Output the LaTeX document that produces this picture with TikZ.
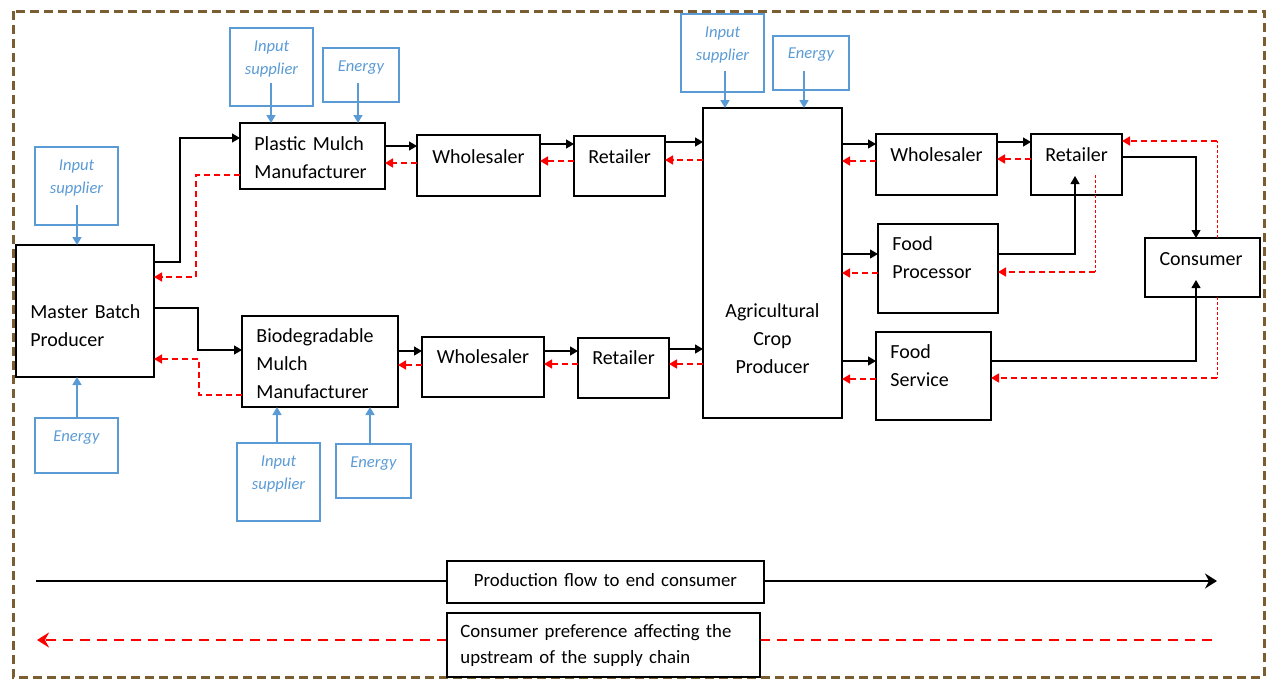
\documentclass[tikz,border=0pt]{standalone}
\usepackage{fontspec}
\setmainfont{Carlito}
\usetikzlibrary{arrows.meta,fit,calc}
\definecolor{bordbrown}{RGB}{122,94,50}
\definecolor{inblue}{RGB}{91,155,213}
\definecolor{fbred}{RGB}{255,0,0}
\tikzset{
  box/.style={draw=black, line width=1.25pt, inner sep=0pt, outer sep=0pt},
  bluebox/.style={draw=inblue, line width=0.8pt, inner sep=0pt, outer sep=0pt},
  legbox/.style={draw=black, fill=white, line width=0.6pt, inner sep=0pt, outer sep=0pt},
  ntext/.style={font=\fontsize{10pt}{14pt}\selectfont, inner sep=0pt, text width=90pt},
  btext/.style={font=\fontsize{8.3pt}{11.5pt}\selectfont\itshape, text=inblue, inner sep=0pt, text width=60pt, align=center, anchor=base},
  ltext/.style={font=\fontsize{9.4pt}{13pt}\selectfont, inner sep=0pt, text width=200pt},
  farrow/.style={draw=black, line width=0.6pt, -{Triangle[length=4pt,width=4.5pt]}},
  rarrow/.style={draw=fbred, line width=0.75pt, dash pattern=on 3pt off 2pt, -{Triangle[length=4pt,width=4.5pt]}},
  rthin/.style={draw=fbred, line width=0.4pt, dash pattern=on 1.5pt off 1pt},
  barrow/.style={draw=inblue, line width=0.8pt, -{Triangle[length=4pt,width=4.5pt]}},
}
\begin{document}
\begin{tikzpicture}[x=0.5pt,y=-0.5pt]
\useasboundingbox (0,0) rectangle (1267,680);
% outer border
\draw[draw=bordbrown, line width=1.5pt, dash pattern=on 4.5pt off 2.5pt] (13,11) rectangle (1264,677);

% main boxes
\node[box, fit={(16,245) (154,377)}] (mb) {};
\node[box, fit={(240,123) (385,189)}] (pm) {};
\node[box, fit={(417,135) (540,196)}] (ws1) {};
\node[box, fit={(574,136) (665,196)}] (rt1) {};
\node[box, fit={(703,108) (842,418)}] (ag) {};
\node[box, fit={(242,316) (398,407)}] (bio) {};
\node[box, fit={(422,337) (544,397)}] (ws2) {};
\node[box, fit={(578,338) (669,398)}] (rt2) {};
\node[box, fit={(876,134) (997,195)}] (ws3) {};
\node[box, fit={(1031,134) (1122,195)}] (rt3) {};
\node[box, fit={(878,224) (998,313)}] (fp) {};
\node[box, fit={(876,332) (991,420)}] (fs) {};
\node[box, fit={(1145,238) (1260,297)}] (con) {};

% blue boxes
\node[bluebox, fit={(35,147) (118,225)}] (mbin) {};
\node[bluebox, fit={(35,418) (118,473)}] (mben) {};
\node[bluebox, fit={(230,28) (313,106)}] (pmin) {};
\node[bluebox, fit={(323,48) (399,102)}] (pmen) {};
\node[bluebox, fit={(681,14) (764,92)}] (agin) {};
\node[bluebox, fit={(773,36) (849,90)}] (agen) {};
\node[bluebox, fit={(237,443) (320,521)}] (bioin) {};
\node[bluebox, fit={(336,444) (411,498)}] (bioen) {};

% main texts
\node[ntext, align=left, anchor=base west] (mbt) at (30,318) {Master Batch\\Producer};
\node[ntext, align=left, anchor=base west] (pmt) at (254,150) {Plastic Mulch\\Manufacturer};
\node[ntext, align=center, anchor=base] (ws1t) at (478.5,163) {Wholesaler};
\node[ntext, align=center, anchor=base] (rt1t) at (619.5,163) {Retailer};
\node[ntext, align=center, anchor=base] (agt) at (772.5,317) {Agricultural\\Crop\\Producer};
\node[ntext, align=left, anchor=base west] (biot) at (256,342) {Biodegradable\\Mulch\\Manufacturer};
\node[ntext, align=center, anchor=base] (ws2t) at (483,363) {Wholesaler};
\node[ntext, align=center, anchor=base] (rt2t) at (623.5,364) {Retailer};
\node[ntext, align=center, anchor=base] (ws3t) at (936.5,161) {Wholesaler};
\node[ntext, align=center, anchor=base] (rt3t) at (1076.5,161) {Retailer};
\node[ntext, align=left, anchor=base west] (fpt) at (892,250) {Food\\Processor};
\node[ntext, align=left, anchor=base west] (fst) at (890,358) {Food\\Service};
\node[ntext, align=center, anchor=base] (cont) at (1201,265) {Consumer};

% blue texts
\node[btext] (mbint) at (76.5,170) {Input\\supplier};
\node[btext] (mbent) at (76.5,441) {Energy};
\node[btext] (pmint) at (271.5,51) {Input\\supplier};
\node[btext] (pment) at (361,71) {Energy};
\node[btext] (agint) at (722.5,37) {Input\\supplier};
\node[btext] (agent) at (811,58) {Energy};
\node[btext] (bioint) at (278.5,466) {Input\\supplier};
\node[btext] (bioent) at (373.5,467) {Energy};

% blue arrows
\coordinate (mbinA) at (77,205);
\coordinate (pminA) at (271,83);
\coordinate (pmenA) at (358,83);
\coordinate (aginA) at (725,71);
\coordinate (agenA) at (804,71);
\draw[barrow] (mbinA) -- (mbinA |- mb.north);
\draw[barrow] (77,0 |- mben.north) -- (77,0 |- mb.south);
\draw[barrow] (pminA) -- (pminA |- pm.north);
\draw[barrow] (pmenA) -- (pmenA |- pm.north);
\draw[barrow] (aginA) -- (aginA |- ag.north);
\draw[barrow] (agenA) -- (agenA |- ag.north);
\draw[barrow] (277,0 |- bioin.north) -- (277,0 |- bio.south);
\draw[barrow] (370,0 |- bioen.north) -- (370,0 |- bio.south);

% black flow connectors
\draw[farrow] (mb.east |- 0,262) -- (180,262) -- (180,138) -- (pm.west |- 0,138);
\draw[farrow] (mb.east |- 0,308) -- (198,308) -- (198,350) -- (bio.west |- 0,350);
\draw[farrow] (pm.east |- 0,146) -- (ws1.west |- 0,146);
\draw[farrow] (ws1.east |- 0,144) -- (rt1.west |- 0,144);
\draw[farrow] (rt1.east |- 0,142) -- (ag.west |- 0,142);
\draw[farrow] (bio.east |- 0,351) -- (ws2.west |- 0,351);
\draw[farrow] (ws2.east |- 0,351) -- (rt2.west |- 0,351);
\draw[farrow] (rt2.east |- 0,349) -- (ag.west |- 0,349);
\draw[farrow] (ag.east |- 0,144) -- (ws3.west |- 0,144);
\draw[farrow] (ws3.east |- 0,142) -- (rt3.west |- 0,142);
\draw[farrow] (ag.east |- 0,254) -- (fp.west |- 0,254);
\draw[farrow] (ag.east |- 0,361) -- (fs.west |- 0,361);
\coordinate (rt3in) at (1075,176);
\draw[farrow] (fp.east |- 0,254) -- (1075,254) -- (rt3in);
\draw[farrow] (rt3.east |- 0,157) -- (1196,157) -- (1196,0 |- con.north);
\coordinate (conin) at (1196,280);
\draw[farrow] (fs.east |- 0,361) -- (1196,361) -- (conin);

% red feedback connectors
\draw[rarrow] (ws1.west |- 0,163) -- (pm.east |- 0,163);
\draw[rarrow] (rt1.west |- 0,161) -- (ws1.east |- 0,161);
\draw[rarrow] (ag.west |- 0,160) -- (rt1.east |- 0,160);
\draw[rarrow] (pm.west |- 0,175) -- (196,175) -- (196,277) -- (mb.east |- 0,277);
\draw[rarrow] (bio.west |- 0,395) -- (199,395) -- (199,359) -- (mb.east |- 0,359);
\draw[rarrow] (ws2.west |- 0,365) -- (bio.east |- 0,365);
\draw[rarrow] (rt2.west |- 0,364) -- (ws2.east |- 0,364);
\draw[rarrow] (ag.west |- 0,364) -- (rt2.east |- 0,364);
\draw[rarrow] (ws3.west |- 0,161) -- (ag.east |- 0,161);
\draw[rarrow] (rt3.west |- 0,159) -- (ws3.east |- 0,159);
\draw[rarrow] (fp.west |- 0,273) -- (ag.east |- 0,273);
\draw[rarrow] (fs.west |- 0,379) -- (ag.east |- 0,379);
\coordinate (c1) at (1217,141);
\draw[rthin] (1217,0 |- con.north) -- (c1);
\draw[rarrow] (c1) -- (rt3.east |- c1);
\coordinate (rt3out) at (1095,175);
\coordinate (c2) at (1095,272);
\draw[rthin] (rt3out) -- (c2);
\draw[rarrow] (c2) -- (fp.east |- c2);
\coordinate (c3) at (1217,378);
\draw[rthin] (1217,0 |- con.south) -- (c3);
\draw[rarrow] (c3) -- (fs.east |- c3);

% legend
\coordinate (lgA) at (36,581);
\coordinate (lgB) at (1217,581);
\coordinate (lgC) at (1212,640);
\coordinate (lgD) at (37,640);
\draw[line width=1.2pt, -{Stealth[length=6pt,width=7.5pt,inset=2pt]}] (lgA) -- (lgB);
\draw[draw=fbred, line width=1.2pt, dash pattern=on 5pt off 3.5pt, -{Stealth[length=6pt,width=7.5pt,inset=2pt]}] (lgC) -- (lgD);
\node[legbox, fit={(447,561) (764,603)}] (leg1) {};
\node[legbox, fit={(447,613) (760,677)}] (leg2) {};
\node[ltext, align=center, anchor=base] (leg1t) at (605.5,586) {Production flow to end consumer};
\node[ltext, align=left, anchor=base west] (leg2t) at (460,637) {Consumer preference affecting the\\upstream of the supply chain};
\end{tikzpicture}
\end{document}
